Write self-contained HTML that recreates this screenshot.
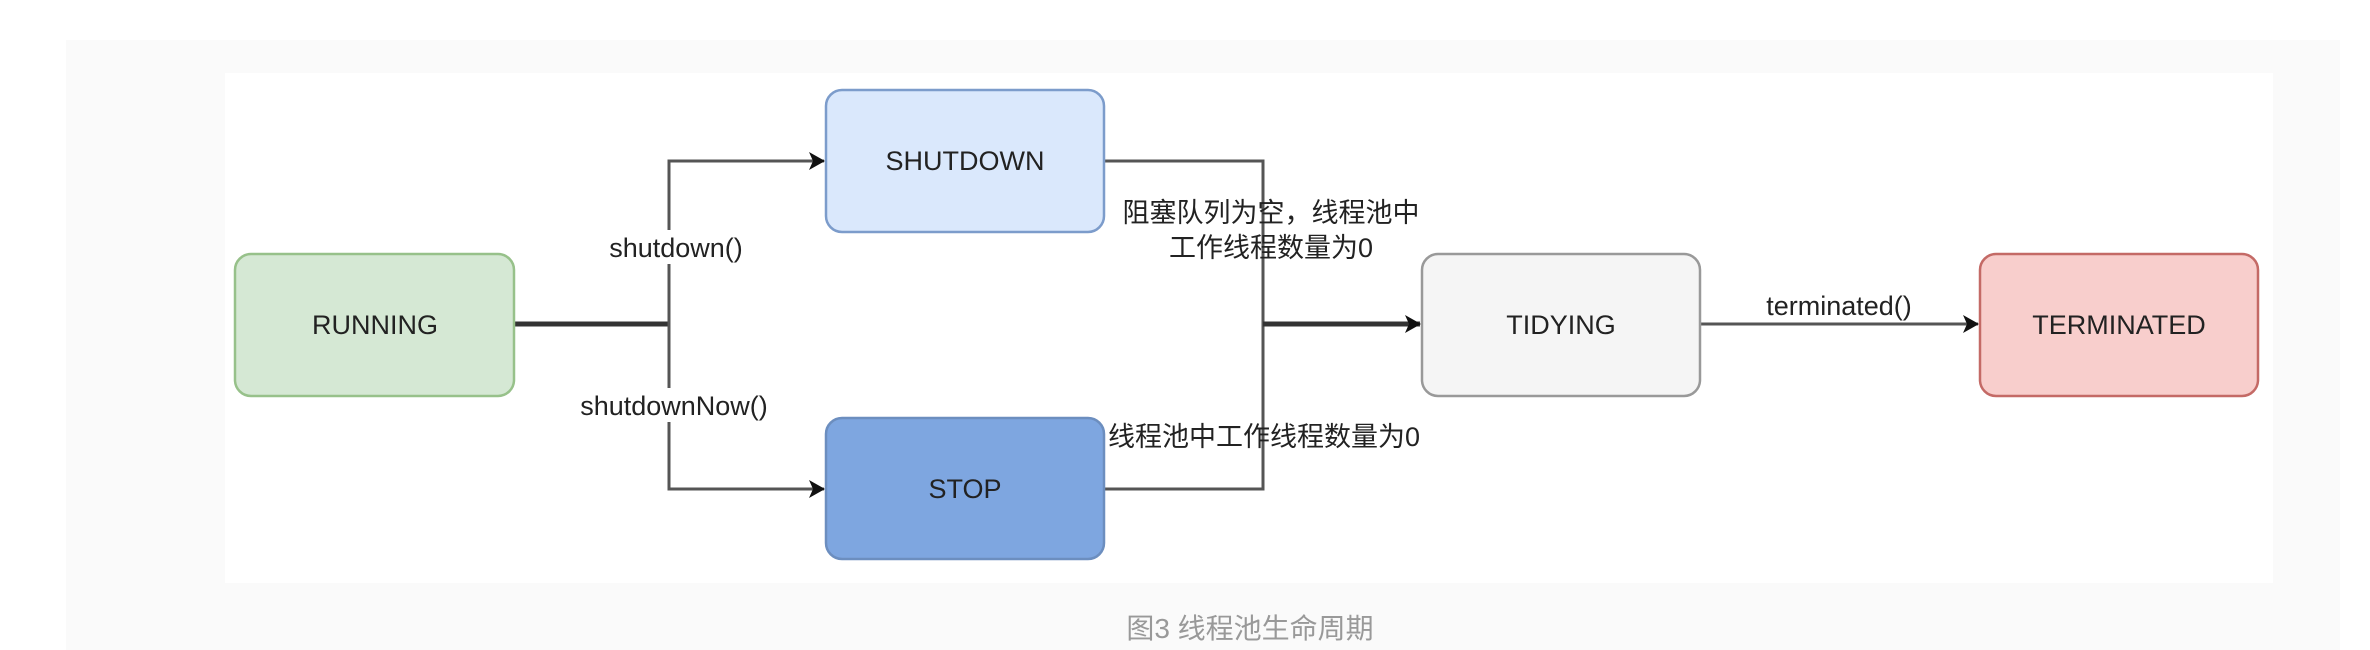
<!DOCTYPE html>
<html><head><meta charset="utf-8"><style>
html,body{margin:0;padding:0;background:#fff;width:2370px;height:650px;overflow:hidden}
svg{display:block}
text{font-family:"Liberation Sans","Noto Sans CJK SC",sans-serif}
</style></head><body>
<svg width="2370" height="650" viewBox="0 0 2370 650" xmlns="http://www.w3.org/2000/svg">
<defs>
<marker id="ar" markerWidth="16" markerHeight="18" refX="15" refY="9" orient="auto" markerUnits="userSpaceOnUse" viewBox="0 0 16 18">
<path d="M0,0 L16,9 L0,18 L4,9 Z" fill="#111"/>
</marker>
</defs>
<rect x="0" y="0" width="2370" height="650" fill="#fff"/>
<rect x="66" y="40" width="2274" height="610" fill="#fafafa"/>
<rect x="225" y="73" width="2048" height="510" fill="#fff"/>

<g fill="none" stroke="#555" stroke-width="3">
<path d="M514 324 H669" stroke="#333" stroke-width="5"/>
<path d="M669 324 V161 H812"/>
<path d="M669 324 V489 H812"/>
<path d="M1104 161 H1263 V489 H1104"/>
</g>
<path d="M669 161 H824" stroke="#555" stroke-width="3" fill="none" marker-end="url(#ar)"/>
<path d="M669 489 H824" stroke="#555" stroke-width="3" fill="none" marker-end="url(#ar)"/>
<path d="M1263 324 H1420" stroke="#333" stroke-width="5" fill="none" marker-end="url(#ar)"/>
<path d="M1700 324 H1978" stroke="#555" stroke-width="3" fill="none" marker-end="url(#ar)"/>

<rect x="235" y="254" width="279" height="142" rx="16" fill="#d5e8d4" stroke="#97c18a" stroke-width="2.5"/>
<rect x="826" y="90" width="278" height="142" rx="16" fill="#dae8fc" stroke="#7c9ccb" stroke-width="2.5"/>
<rect x="826" y="418" width="278" height="141" rx="16" fill="#7ea6e0" stroke="#6c8ebf" stroke-width="2.5"/>
<rect x="1422" y="254" width="278" height="142" rx="16" fill="#f5f5f5" stroke="#999" stroke-width="2.5"/>
<rect x="1980" y="254" width="278" height="142" rx="16" fill="#f8cecc" stroke="#c46a66" stroke-width="2.5"/>

<g font-size="27" fill="#222" text-anchor="middle">
<text x="375" y="334">RUNNING</text>
<text x="965" y="170">SHUTDOWN</text>
<text x="965" y="498">STOP</text>
<text x="1561" y="334">TIDYING</text>
<text x="2119" y="334">TERMINATED</text>
</g>

<rect x="606" y="230" width="140" height="34" fill="#fff"/>
<rect x="576" y="388" width="196" height="34" fill="#fff"/>
<g font-size="27" fill="#222" text-anchor="middle">
<text x="676" y="257">shutdown()</text>
<text x="674" y="415">shutdownNow()</text>
<text x="1271" y="222">阻塞队列为空，线程池中</text>
<text x="1271" y="257">工作线程数量为0</text>
<text x="1264" y="446">线程池中工作线程数量为0</text>
<text x="1839" y="315">terminated()</text>
</g>

<text x="1250" y="638" font-size="28" fill="#999" text-anchor="middle">图3 线程池生命周期</text>
</svg>
</body></html>
